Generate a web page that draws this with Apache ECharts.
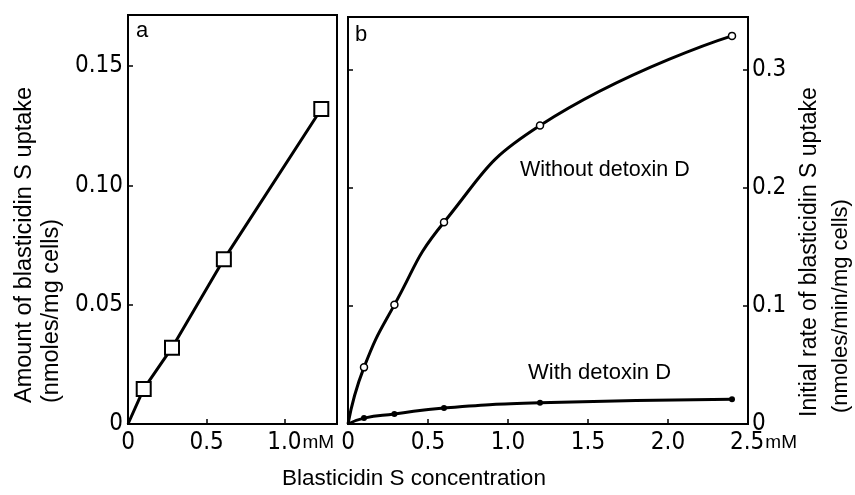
<!DOCTYPE html>
<html>
<head>
<meta charset="utf-8">
<script src="https://cdn.jsdelivr.net/npm/echarts@6/dist/echarts.min.js"></script>
<style>html,body{margin:0;padding:0;background:#fff}#c{width:855px;height:495px}</style>
</head>
<body>
<div id="c"></div>
<script>
// Panel a: amount of blasticidin S uptake vs concentration
const aConc = [0, 0.1, 0.28, 0.61, 1.23];
const aUptake = [0, 0.0147, 0.032, 0.069, 0.132];
// Panel b: initial rate of uptake vs concentration
const bConc = [0, 0.1, 0.29, 0.6, 1.2, 2.4];
const bWithout = [0, 0.048, 0.101, 0.171, 0.253, 0.329];
const bWith = [0, 0.005, 0.0085, 0.0136, 0.018, 0.021];
// tick labels
const aXTickValues = [0, 0.5, 1.0];
const aXTickLabels = ['0', '0.5', '1.0'];
const aYTickValues = [0, 0.05, 0.10, 0.15];
const aYTickLabels = ['0', '0.05', '0.10', '0.15'];
const bXTickValues = [0, 0.5, 1.0, 1.5, 2.0, 2.5];
const bXTickLabels = ['0', '0.5', '1.0', '1.5', '2.0', '2.5'];
const bYTickValues = [0, 0.1, 0.2, 0.3];
const bYTickLabels = ['0', '0.1', '0.2', '0.3'];
const unitLabel = 'mM';

const NARROW = "'Liberation Sans Narrow','DejaVu Sans Condensed',sans-serif";
const SANS = "'Liberation Sans',Arial,sans-serif";

function makeFmt(vals, labs, unitOnLast) {
  return function (v) {
    for (let i = 0; i < vals.length; i++) {
      if (Math.abs(v - vals[i]) < 1e-6) {
        if (unitOnLast && i === vals.length - 1) return '{p|}{n|' + labs[i] + '}{u|' + unitLabel + '}';
        return '{n|' + labs[i] + '}';
      }
    }
    return '';
  };
}
const rich = {
  n: {fontFamily: NARROW, fontSize: 24, color: '#000', lineHeight: 26},
  u: {fontFamily: SANS, fontSize: 19, color: '#000', lineHeight: 26, padding: [0, 0, 0, 1]},
  p: {width: 31}
};
const axLine = {show: true, lineStyle: {color: '#000', width: 2}};
const axTick = {show: true, inside: true, length: 5, lineStyle: {color: '#000', width: 1.5}};

function pairs(xs, ys) {
  return xs.map((x, i) => i === 0 ? {value: [x, ys[i]], symbol: 'none'} : [x, ys[i]]);
}

const chart = echarts.init(document.getElementById('c'), null, {renderer: 'canvas'});
chart.setOption({
  backgroundColor: '#fff',
  animation: false,
  grid: [
    {left: 128, top: 15, width: 209, height: 409, show: true, borderColor: '#000', borderWidth: 2, containLabel: false, outerBoundsMode: 'none'},
    {left: 348, top: 17, width: 400, height: 407, show: true, borderColor: '#000', borderWidth: 2, containLabel: false, outerBoundsMode: 'none'}
  ],
  xAxis: [
    {gridIndex: 0, type: 'value', min: 0, max: 1.33, interval: 0.5, axisLine: axLine, axisTick: axTick, splitLine: {show: false},
     axisLabel: {margin: 6, showMaxLabel: false, formatter: makeFmt(aXTickValues, aXTickLabels, true), rich: rich}},
    {gridIndex: 1, type: 'value', min: 0, max: 2.5, interval: 0.5, axisLine: axLine, axisTick: axTick, splitLine: {show: false},
     axisLabel: {margin: 6, formatter: makeFmt(bXTickValues, bXTickLabels, true), rich: rich}}
  ],
  yAxis: [
    {gridIndex: 0, type: 'value', min: 0, max: 0.1714, interval: 0.05, axisLine: axLine, axisTick: axTick, splitLine: {show: false},
     axisLabel: {margin: 5, showMaxLabel: false, formatter: makeFmt(aYTickValues, aYTickLabels, false), rich: rich}},
    {gridIndex: 1, type: 'value', position: 'left', min: 0, max: 0.345, interval: 0.1, axisLine: axLine, axisTick: axTick, splitLine: {show: false},
     axisLabel: {show: false}},
    {gridIndex: 1, type: 'value', position: 'right', min: 0, max: 0.345, interval: 0.1, axisLine: axLine, axisTick: axTick, splitLine: {show: false},
     axisLabel: {margin: 4, showMaxLabel: false, formatter: makeFmt(bYTickValues, bYTickLabels, false), rich: rich}}
  ],
  series: [
    {type: 'line', xAxisIndex: 0, yAxisIndex: 0, data: pairs(aConc, aUptake), symbol: 'rect', symbolSize: 14,
     lineStyle: {color: '#000', width: 3}, itemStyle: {color: '#fff', borderColor: '#000', borderWidth: 2}, z: 3},
    {type: 'line', xAxisIndex: 1, yAxisIndex: 2, data: pairs(bConc, bWithout), smooth: 0.5, symbol: 'circle', symbolSize: 7,
     lineStyle: {color: '#000', width: 3}, itemStyle: {color: '#fff', borderColor: '#000', borderWidth: 1.5}, z: 3},
    {type: 'line', xAxisIndex: 1, yAxisIndex: 2, data: pairs(bConc, bWith), smooth: 0.5, symbol: 'circle', symbolSize: 6,
     lineStyle: {color: '#000', width: 3}, itemStyle: {color: '#000', borderColor: '#000', borderWidth: 0}, z: 3}
  ],
  graphic: [
    {type: 'text', x: 136, y: 31, style: {text: 'a', fontFamily: SANS, fontSize: 22, fill: '#000', textAlign: 'left', textVerticalAlign: 'middle'}},
    {type: 'text', x: 355, y: 35, style: {text: 'b', fontFamily: SANS, fontSize: 22, fill: '#000', textAlign: 'left', textVerticalAlign: 'middle'}},
    {type: 'text', x: 520, y: 170, style: {text: 'Without detoxin D', fontFamily: SANS, fontSize: 21.5, fill: '#000', textAlign: 'left', textVerticalAlign: 'middle'}},
    {type: 'text', x: 528, y: 373, style: {text: 'With detoxin D', fontFamily: SANS, fontSize: 22, fill: '#000', textAlign: 'left', textVerticalAlign: 'middle'}},
    {type: 'text', x: 282, y: 479, style: {text: 'Blasticidin S concentration', fontFamily: SANS, fontSize: 22.5, fill: '#000', textAlign: 'left', textVerticalAlign: 'middle'}},
    {type: 'text', x: 25, y: 403, rotation: Math.PI / 2, style: {text: 'Amount of blasticidin S uptake', fontFamily: SANS, fontSize: 23.5, fill: '#000', textAlign: 'left', textVerticalAlign: 'middle'}},
    {type: 'text', x: 52, y: 403, rotation: Math.PI / 2, style: {text: '(nmoles/mg cells)', fontFamily: SANS, fontSize: 23.5, fill: '#000', textAlign: 'left', textVerticalAlign: 'middle'}},
    {type: 'text', x: 810, y: 417, rotation: Math.PI / 2, style: {text: 'Initial rate of blasticidin S uptake', fontFamily: SANS, fontSize: 23, fill: '#000', textAlign: 'left', textVerticalAlign: 'middle'}},
    {type: 'text', x: 841, y: 413, rotation: Math.PI / 2, style: {text: '(nmoles/min/mg cells)', fontFamily: SANS, fontSize: 22, fill: '#000', textAlign: 'left', textVerticalAlign: 'middle'}}
  ]
});
</script>
</body>
</html>
